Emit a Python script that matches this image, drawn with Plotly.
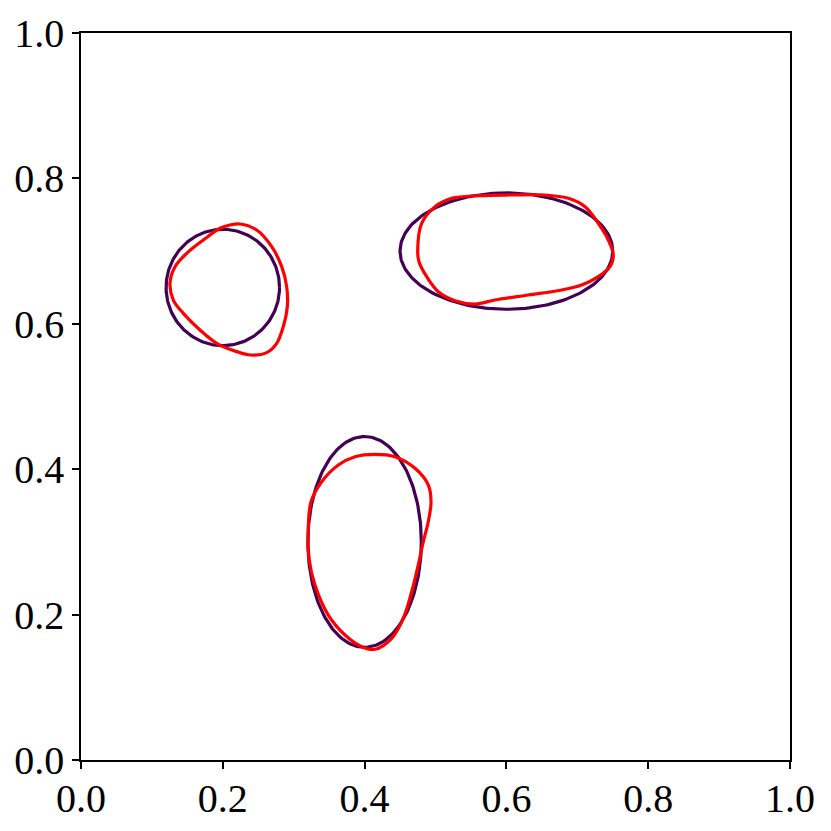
import numpy as np
import plotly.graph_objects as go

# Purple ellipses: centers and semi-axes (data units)
ellipse_cx = [0.2, 0.6, 0.4]
ellipse_cy = [0.65, 0.7, 0.3]
ellipse_rx = [0.08, 0.15, 0.08]
ellipse_ry = [0.08, 0.08, 0.145]

# Red contours
red1_x = [0.2243, 0.2478, 0.2690, 0.2831, 0.2901, 0.2910, 0.2853, 0.2760, 0.2619, 0.2384,
          0.2196, 0.1914, 0.1678, 0.1443, 0.1302, 0.1255, 0.1326, 0.1491, 0.1725, 0.1961, 0.2102]
red1_y = [0.7373, 0.7290, 0.7061, 0.6786, 0.6511, 0.6236, 0.5961, 0.5731, 0.5603, 0.5571,
          0.5617, 0.5731, 0.5915, 0.6144, 0.6327, 0.6557, 0.6786, 0.6970, 0.7153, 0.7314, 0.7359]

red2_x = [0.4749, 0.4805, 0.4993, 0.5228, 0.5604, 0.6075, 0.6544, 0.6873, 0.7109, 0.7296,
          0.7437, 0.7508, 0.7461, 0.7296, 0.7062, 0.6780, 0.6309, 0.5839, 0.5557, 0.5275,
          0.5039, 0.4876, 0.4767]
red2_y = [0.7015, 0.7382, 0.7611, 0.7726, 0.7762, 0.7772, 0.7772, 0.7726, 0.7611, 0.7382,
          0.7153, 0.6946, 0.6786, 0.6648, 0.6534, 0.6465, 0.6396, 0.6327, 0.6272, 0.6318,
          0.6442, 0.6648, 0.6854]

red3_x = [0.4147, 0.4429, 0.4711, 0.4898, 0.4937, 0.4898, 0.4828, 0.4757, 0.4664, 0.4546,
          0.4382, 0.4147, 0.3959, 0.3724, 0.3488, 0.3300, 0.3216, 0.3206, 0.3244, 0.3395,
          0.3629, 0.3865]
red3_y = [0.4205, 0.4172, 0.4012, 0.3783, 0.3553, 0.3278, 0.3003, 0.2682, 0.2315, 0.1949,
          0.1674, 0.1523, 0.1558, 0.1719, 0.1994, 0.2407, 0.2774, 0.3187, 0.3553, 0.3828,
          0.4058, 0.4172]

tick_vals = [0.0, 0.2, 0.4, 0.6, 0.8, 1.0]
tick_text = ["0.0", "0.2", "0.4", "0.6", "0.8", "1.0"]

fig = go.Figure()
t = np.linspace(0, 2 * np.pi, 200)
for cx, cy, rx, ry in zip(ellipse_cx, ellipse_cy, ellipse_rx, ellipse_ry):
    fig.add_trace(go.Scatter(x=cx + rx * np.cos(t), y=cy + ry * np.sin(t), mode="lines",
                             line=dict(color="#440154", width=3.2), showlegend=False,
                             hoverinfo="skip"))

for rx_, ry_ in [(red1_x, red1_y), (red2_x, red2_y), (red3_x, red3_y)]:
    xs = rx_ + rx_[:1]
    ys = ry_ + ry_[:1]
    fig.add_trace(go.Scatter(x=xs, y=ys, mode="lines",
                             line=dict(color="red", width=3.2, shape="spline", smoothing=1.0),
                             showlegend=False, hoverinfo="skip"))

axis_common = dict(range=[0, 1], showgrid=False, zeroline=False, showline=True,
                   linecolor="black", linewidth=1.5, mirror=True, ticks="outside",
                   ticklen=7, tickwidth=1.5, tickcolor="black", automargin=False,
                   tickvals=tick_vals, ticktext=tick_text,
                   tickfont=dict(family="Liberation Serif", size=40, color="black"))
fig.update_layout(
    width=831, height=831,
    margin=dict(l=73, r=49, t=25, b=79),
    plot_bgcolor="white", paper_bgcolor="white",
    xaxis=dict(axis_common, ticklabelstandoff=-5), yaxis=axis_common,
)
fig.write_html("out.html")
